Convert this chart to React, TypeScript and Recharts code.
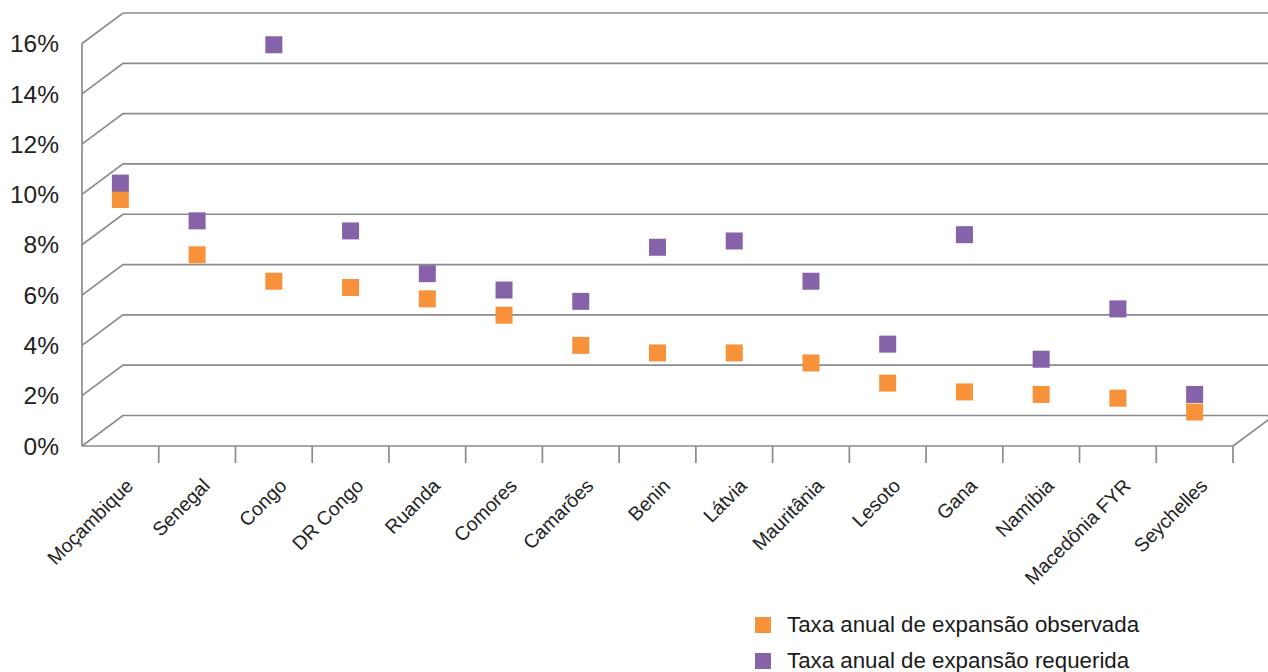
import { CartesianGrid, ComposedChart, Legend, Line, XAxis, YAxis } from "recharts";

// Taxa anual de expansão por país (%).
const COUNTRIES = [
  "Moçambique",
  "Senegal",
  "Congo",
  "DR Congo",
  "Ruanda",
  "Comores",
  "Camarões",
  "Benin",
  "Látvia",
  "Mauritânia",
  "Lesoto",
  "Gana",
  "Namíbia",
  "Macedônia FYR",
  "Seychelles",
];
const OBSERVED = [9.8, 7.6, 6.55, 6.3, 5.85, 5.2, 4.0, 3.7, 3.7, 3.3, 2.5, 2.15, 2.05, 1.9, 1.35];
const REQUIRED = [10.45, 8.95, 15.95, 8.55, 6.85, 6.2, 5.75, 7.9, 8.15, 6.55, 4.05, 8.4, 3.45, 5.45, 2.05];
const Y_TICKS = [0, 2, 4, 6, 8, 10, 12, 14, 16];

const SERIES = [
  { key: "observada", label: "Taxa anual de expansão observada", color: "#F7923A" },
  { key: "requerida", label: "Taxa anual de expansão requerida", color: "#8663A8" },
];

const data = COUNTRIES.map((name, i) => ({
  name,
  observada: OBSERVED[i],
  requerida: REQUIRED[i],
}));

const W = 1268;
const H = 672;
const MARGIN = { top: 43.5, right: 35, bottom: 0, left: 0 };
const Y_AXIS_W = 82;
const X_AXIS_H = 226;
const BAND = (W - MARGIN.right - Y_AXIS_W) / COUNTRIES.length;
// falso 3D do Excel: a parede do fundo fica deslocada para cima/direita
const DEPTH_X = 41;
const DEPTH_Y = 30.5;
const LINE = "#8b8b8b";
const FONT = "'Liberation Sans', Arial, Helvetica, sans-serif";

function WallLine(props: any) {
  const { x1, y1, x2, index, y, height } = props;
  let d = `M${x1},${y1}L${x1 + DEPTH_X},${y1 - DEPTH_Y}L${x2 + DEPTH_X + 20},${y1 - DEPTH_Y}`;
  if (Math.abs(y1 - (y + height)) < 1) d += `M${x2},${y1}L${x2 + DEPTH_X},${y1 - DEPTH_Y}`;
  return <path key={`wall-${index}`} d={d} stroke={LINE} strokeWidth={1.7} fill="none" />;
}

function CountryTick(props: any) {
  const { x, y, payload } = props;
  const tx = x + BAND / 2;
  const ax = x + 14;
  const ay = y + 41;
  return (
    <g>
      <line x1={tx} y1={y} x2={tx} y2={y + 17} stroke={LINE} strokeWidth={1.7} />
      <text
        x={ax}
        y={ay}
        textAnchor="end"
        transform={`rotate(-45 ${ax} ${ay})`}
        fontSize={19.5}
        fontFamily={FONT}
        fill="#222"
      >
        {payload.value}
      </text>
    </g>
  );
}

const squareDot = (color: string) => (p: any) => {
  if (p.cx == null || p.cy == null) return <g key={`d-${p.index}`} />;
  return <rect key={`d-${p.index}`} x={p.cx - 8.5} y={p.cy - 8.5} width={17} height={17} fill={color} />;
};

function LegendBox() {
  return (
    <div style={{ fontFamily: FONT, fontSize: 22.3, color: "#1a1a1a" }}>
      {SERIES.map((s) => (
        <div key={s.key} style={{ display: "flex", alignItems: "center", height: 36 }}>
          <span style={{ width: 16, height: 16, background: s.color, marginRight: 16 }} />
          <span>{s.label}</span>
        </div>
      ))}
    </div>
  );
}

export default function App() {
  return (
    <div style={{ position: "absolute", left: 0, top: 0, width: W, height: H, background: "#fff" }}>
      <ComposedChart width={W} height={H} data={data} margin={MARGIN}>
        <CartesianGrid vertical={false} horizontal={WallLine} syncWithTicks />
        <XAxis
          dataKey="name"
          scale="band"
          height={X_AXIS_H}
          interval={0}
          tickLine={false}
          tickSize={0}
          tickMargin={0}
          axisLine={{ stroke: LINE, strokeWidth: 1.7 }}
          tick={<CountryTick />}
        />
        <YAxis
          width={Y_AXIS_W}
          domain={[0, 16]}
          ticks={Y_TICKS}
          interval={0}
          tickLine={false}
          tickMargin={17}
          axisLine={{ stroke: LINE, strokeWidth: 1.7 }}
          tickFormatter={(v) => `${v}%`}
          tick={{ fill: "#222", fontSize: 24.5, fontFamily: FONT }}
        />
        {SERIES.map((s) => (
          <Line
            key={s.key}
            dataKey={s.key}
            stroke="none"
            dot={squareDot(s.color)}
            activeDot={false}
            isAnimationActive={false}
          />
        ))}
        <Legend
          layout="horizontal"
          verticalAlign="middle"
          align="center"
          content={<LegendBox />}
          wrapperStyle={{ left: 755, top: 606.5, width: 480, height: 72 }}
        />
      </ComposedChart>
    </div>
  );
}
